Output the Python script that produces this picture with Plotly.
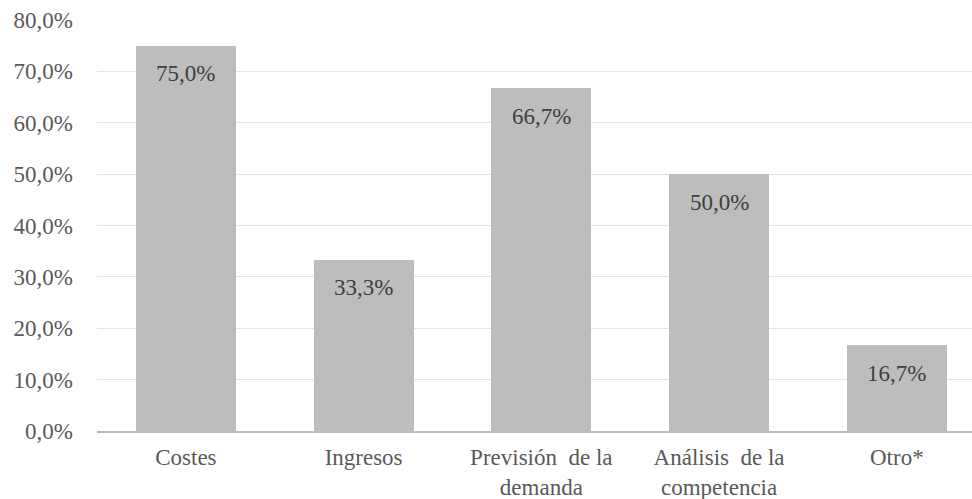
import plotly.graph_objects as go

categories = ["Costes", "Ingresos", "Previsión  de la<br>demanda", "Análisis  de la<br>competencia", "Otro*"]
shares = [0.750, 0.333, 0.667, 0.500, 0.167]
y_ticks = [0.0, 0.1, 0.2, 0.3, 0.4, 0.5, 0.6, 0.7, 0.8]

font_family = "Liberation Serif, Times New Roman, serif"
text_color = "#595959"
font_size = 23

fig = go.Figure(
    go.Bar(
        x=list(range(len(categories))),
        y=shares,
        width=0.5625,
        marker=dict(color="#BDBDBD", line=dict(width=0)),
        hoverinfo="skip",
    )
)

# value labels placed just under the top of each bar
for i, v in enumerate(shares):
    fig.add_annotation(
        x=i, y=v, text=f"{v * 100:.1f}%".replace(".", ","),
        showarrow=False, yanchor="middle", yshift=-28,
        font=dict(family=font_family, size=font_size, color="#404040"),
    )

fig.update_layout(
    width=972, height=499,
    margin=dict(l=97, r=0, t=20, b=68),
    paper_bgcolor="white", plot_bgcolor="white",
    font=dict(family=font_family, size=font_size, color=text_color),
    separators=",.",
    showlegend=False,
    bargap=0,
)
fig.update_xaxes(
    range=[-0.5, 4.423],
    tickvals=list(range(len(categories))),
    ticktext=categories,
    showline=True, linecolor="#BDBDBD", linewidth=2,
    showgrid=False, ticks="", zeroline=False,
    ticklabelstandoff=4,
    automargin=False,
    tickfont=dict(family=font_family, size=font_size, color=text_color),
)
fig.update_yaxes(
    range=[0, 0.8],
    tickvals=y_ticks,
    tickformat=".1%",
    showgrid=True, gridcolor="#E3E3E3", gridwidth=1,
    zeroline=False, showline=False, ticks="",
    ticklabelstandoff=23,
    automargin=False,
    tickfont=dict(family=font_family, size=font_size, color=text_color),
)

fig.write_html("out.html")
